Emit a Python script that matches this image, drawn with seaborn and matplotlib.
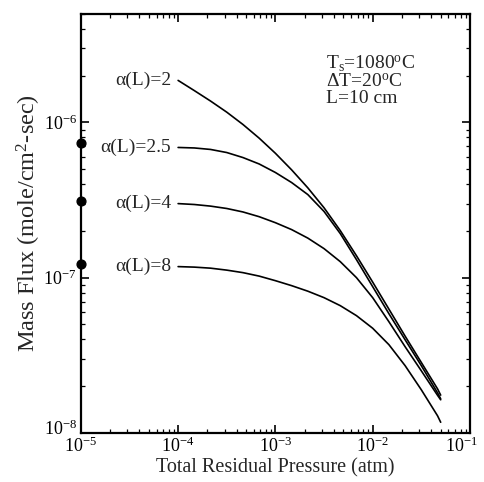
import numpy as np
import pandas as pd
import matplotlib
matplotlib.use("Agg")
import matplotlib.pyplot as plt
import matplotlib.transforms as mtransforms
import seaborn as sns
from matplotlib.ticker import LogLocator, NullFormatter

# ---- data ----
pressure = [1.0e-4, 1.468e-4, 2.154e-4, 3.162e-4, 4.642e-4, 6.813e-4,
            1.0e-3, 1.468e-3, 2.154e-3, 3.162e-3, 4.642e-3, 6.813e-3,
            1.0e-2, 1.468e-2, 2.154e-2, 3.162e-2, 4.642e-2, 5.0e-2]
flux_a2 = [1.866e-6, 1.604e-6, 1.374e-6, 1.165e-6, 9.70e-7, 7.92e-7,
           6.33e-7, 4.95e-7, 3.79e-7, 2.82e-7, 2.01e-7, 1.384e-7,
           9.36e-8, 6.27e-8, 4.20e-8, 2.84e-8, 1.92e-8, 1.75e-8]
flux_a25 = [6.90e-7, 6.85e-7, 6.70e-7, 6.40e-7, 5.94e-7, 5.40e-7,
            4.76e-7, 4.10e-7, 3.43e-7, 2.67e-7, 1.923e-7, 1.306e-7,
            8.75e-8, 5.86e-8, 3.98e-8, 2.71e-8, 1.811e-8, 1.657e-8]
flux_a4 = [3.00e-7, 2.96e-7, 2.89e-7, 2.79e-7, 2.65e-7, 2.47e-7,
           2.26e-7, 2.04e-7, 1.798e-7, 1.538e-7, 1.268e-7, 1.0e-7,
           7.43e-8, 5.20e-8, 3.59e-8, 2.51e-8, 1.745e-8, 1.633e-8]
flux_a8 = [1.178e-7, 1.169e-7, 1.151e-7, 1.118e-7, 1.077e-7, 1.023e-7,
           9.56e-8, 8.88e-8, 8.18e-8, 7.43e-8, 6.60e-8, 5.69e-8,
           4.72e-8, 3.70e-8, 2.71e-8, 1.894e-8, 1.288e-8, 1.17e-8]
series_labels = ["α(L)=2", "α(L)=2.5", "α(L)=4", "α(L)=8"]
dot_x = [1e-5, 1e-5, 1e-5]
dot_y = [7.4e-7, 3.1e-7, 1.23e-7]
xticks = [1e-5, 1e-4, 1e-3, 1e-2, 1e-1]
yticks = [1e-8, 1e-7, 1e-6]

series = [flux_a2, flux_a25, flux_a4, flux_a8]
df = pd.concat([pd.DataFrame({"P": pressure, "J": s, "curve": lab})
                for s, lab in zip(series, series_labels)], ignore_index=True)

sns.set_theme(style="ticks")
plt.rcParams["font.family"] = ["Liberation Serif", "DejaVu Serif"]
plt.rcParams["mathtext.fontset"] = "custom"
plt.rcParams["mathtext.rm"] = "Liberation Serif"
plt.rcParams["mathtext.it"] = "Liberation Serif:italic"
plt.rcParams["mathtext.bf"] = "Liberation Serif:bold"

fig = plt.figure(figsize=(4.84, 4.82), dpi=100)
ax = fig.add_axes([0.167, 0.102, 0.804, 0.869])

sns.lineplot(data=df, x="P", y="J", units="curve", estimator=None,
             color="black", linewidth=1.2, ax=ax, legend=False, sort=False)
ax.scatter(dot_x, dot_y, s=40, color="black", zorder=5, clip_on=False)

ax.set_xscale("log")
ax.set_yscale("log")
ax.set_xlim(1e-5, 1e-1)
ax.set_ylim(1e-8, 5e-6)
ax.set_xticks(xticks)
ax.set_yticks(yticks)
ax.xaxis.set_minor_locator(LogLocator(base=10, subs=np.arange(2, 10), numticks=20))
ax.yaxis.set_minor_locator(LogLocator(base=10, subs=np.arange(2, 10), numticks=20))
ax.xaxis.set_minor_formatter(NullFormatter())
ax.yaxis.set_minor_formatter(NullFormatter())
ax.tick_params(which="both", direction="in", top=True, right=True, colors="black")
ax.tick_params(which="major", length=6, width=1.2, labelsize=13, pad=3)
ax.tick_params(which="minor", length=3, width=0.9)
for sp in ax.spines.values():
    sp.set_linewidth(1.6)
    sp.set_color("black")

ax.set_xlabel("Total Residual Pressure (atm)", fontsize=14.5, labelpad=1)
ax.set_ylabel("Mass Flux (mole/cm$^2$-sec)", fontsize=17.5, labelpad=0)

fig.canvas.draw()
# nudge edge tick labels so they stay inside the figure and apart
xl = ax.get_xticklabels()
xl[-1].set_transform(xl[-1].get_transform() +
                     mtransforms.ScaledTranslation(-6 / 72, 0, fig.dpi_scale_trans))
yl = ax.get_yticklabels()
yl[0].set_transform(yl[0].get_transform() +
                    mtransforms.ScaledTranslation(0, 4 / 72, fig.dpi_scale_trans))

for s, lab in zip(series, series_labels):
    ax.annotate(lab, xy=(pressure[0], s[0]), xytext=(-5, 0),
                textcoords="offset points", ha="right", va="center", fontsize=14)

ax.text(0.63, 0.905, "T$_\\mathregular{s}$=1080$^\\mathregular{o}$C\n"
        "ΔT=20$^\\mathregular{o}$C\nL=10 cm",
        transform=ax.transAxes, ha="left", va="top", fontsize=14,
        linespacing=0.95)

fig.savefig("out.png", dpi=100)
